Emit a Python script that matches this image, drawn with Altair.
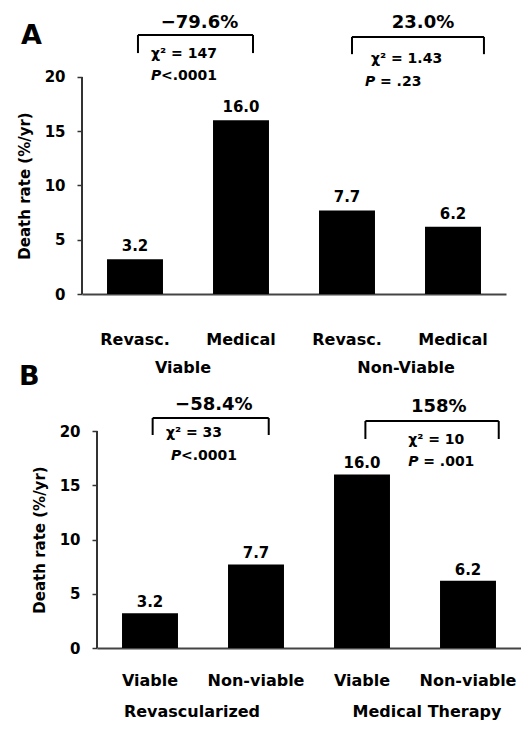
import altair as alt
import pandas as pd

FONT = "DejaVu Sans"
STEP = 106.0  # px per bar step (annotation x unit)

# ---------------- Panel A data ----------------
a_keys = ["v_rev", "v_med", "n_rev", "n_med"]
a_labels = ["Revasc.", "Medical", "Revasc.", "Medical"]
a_values = [3.2, 16.0, 7.7, 6.2]
a_groups = ["Viable", "Non-Viable"]
a_group_x = [0.953, 3.057]
a_pct = ["\u221279.6%", "23.0%"]
a_pct_x = [1.108, 3.217]
a_pct_y = [24.98, 24.98]
a_chi = ["\u03c7\u00b2 = 147", "\u03c7\u00b2 = 1.43"]
a_chi_x = [0.651, 2.726]
a_chi_y = [22.1, 21.66]
a_p_rest = ["<.0001", "= .23"]
a_p_dx = [10, 15]
a_p_x = [0.651, 2.67]
a_p_y = [20.1, 19.54]
a_br_x1 = [0.528, 2.547]
a_br_x2 = [1.613, 3.792]
a_br_top = [23.87, 23.69]
a_br_bot = [22.2, 22.1]

# ---------------- Panel B data ----------------
b_keys = ["r_via", "r_non", "m_via", "m_non"]
b_labels = ["Viable", "Non-viable", "Viable", "Non-viable"]
b_values = [3.2, 7.7, 16.0, 6.2]
b_groups = ["Revascularized", "Medical Therapy"]
b_group_x = [0.896, 3.113]
b_pct = ["\u221258.4%", "158%"]
b_pct_x = [1.102, 3.224]
b_pct_y = [22.4, 22.2]
b_chi = ["\u03c7\u00b2 = 33", "\u03c7\u00b2 = 10"]
b_chi_x = [0.65, 2.936]
b_chi_y = [19.8, 19.17]
b_p_rest = ["<.0001", "= .001"]
b_p_dx = [10, 15]
b_p_x = [0.698, 2.936]
b_p_y = [17.7, 17.14]
b_br_x1 = [0.525, 2.532]
b_br_x2 = [1.62, 3.79]
b_br_top = [21.2, 20.92]
b_br_bot = [19.63, 19.26]

y_ticks = [0, 5, 10, 15, 20]


def build_panel(keys, labels, values, groups, group_x, group_y,
                pct, pct_x, pct_y, chi, chi_x, chi_y, p_rest, p_dx, p_x, p_y,
                br_x1, br_x2, br_top, br_bot, letters, ytop, height, width,
                xrange, axis_offset, label_pad, value_dy):
    yscale = alt.Scale(domain=[0, ytop], nice=False, zero=True)
    band_kw = dict(paddingInner=0.472, paddingOuter=0.236)
    qs_kw = dict(domain=[0, 4], nice=False, zero=False)
    if xrange is not None:
        band_kw["range"] = xrange
        qs_kw["range"] = xrange
    label_expr = ("[" + ",".join("'%s'" % l for l in labels) + "][indexof(["
                  + ",".join("'%s'" % k for k in keys) + "], datum.value)]")

    x_axis = alt.Axis(title=None, labelExpr=label_expr, ticks=False, tickSize=0,
                      domainColor="#444", domainWidth=2, labelAngle=0,
                      labelFont=FONT, labelFontSize=16, labelFontWeight="bold",
                      labelColor="#000", labelPadding=label_pad)
    title_y = height - (max(y_ticks) / 2.0) * (height / ytop)
    y_axis = alt.Axis(values=y_ticks, domain=False, grid=False, tickSize=5,
                      tickWidth=1.5, tickColor="#333", labelFont=FONT,
                      labelFontSize=15, labelFontWeight="bold", labelColor="#000",
                      labelPadding=12, title="Death rate (%/yr)", titleFont=FONT,
                      titleFontSize=15, titleFontWeight="bold", titleColor="#000",
                      titlePadding=12, titleY=title_y, offset=axis_offset)

    bars_df = pd.DataFrame({"key": keys, "value": values})
    bars = alt.Chart(bars_df).mark_bar(color="#000").encode(
        x=alt.X("key:N", sort=keys, scale=alt.Scale(**band_kw), axis=x_axis),
        y=alt.Y("value:Q", scale=yscale, axis=y_axis),
    )
    vals = alt.Chart(bars_df).mark_text(
        font=FONT, fontSize=15, fontWeight="bold", baseline="alphabetic",
        dy=value_dy, color="#000"
    ).encode(
        x=alt.X("key:N", sort=keys, scale=alt.Scale(**band_kw), axis=None),
        y=alt.Y("value:Q", scale=yscale, axis=y_axis),
        text=alt.Text("value:Q", format=".1f"),
    )

    def X(field="x"):
        return alt.X(field + ":Q", scale=alt.Scale(**qs_kw), axis=None)

    def Y(field="y"):
        return alt.Y(field + ":Q", scale=yscale, axis=y_axis)

    # y axis line from 0 to 20
    yline = alt.Chart(pd.DataFrame({"x": [0], "y": [0], "y2": [20]})).mark_rule(
        color="#333", strokeWidth=2
    ).encode(x=X(), y=Y(), y2="y2:Q")

    # brackets
    segs = []
    for i in range(len(br_x1)):
        segs.append((br_x1[i], br_top[i], br_x2[i], br_top[i]))
        segs.append((br_x1[i], br_top[i], br_x1[i], br_bot[i]))
        segs.append((br_x2[i], br_top[i], br_x2[i], br_bot[i]))
    seg_df = pd.DataFrame(segs, columns=["x", "y", "x2", "y2"])
    brackets = alt.Chart(seg_df).mark_rule(color="#000", strokeWidth=2).encode(
        x=X(), y=Y(), x2="x2:Q", y2="y2:Q"
    )

    pct_df = pd.DataFrame({"x": pct_x, "y": pct_y, "t": pct})
    pct_t = alt.Chart(pct_df).mark_text(
        font=FONT, fontSize=18, fontWeight="bold", align="center",
        baseline="middle", color="#000"
    ).encode(x=X(), y=Y(), text="t:N")

    chi_df = pd.DataFrame({"x": chi_x, "y": chi_y, "t": chi})
    chi_t = alt.Chart(chi_df).mark_text(
        font=FONT, fontSize=14, fontWeight="bold", align="left",
        baseline="middle", color="#000"
    ).encode(x=X(), y=Y(), text="t:N")

    p_df = pd.DataFrame({"x": p_x, "y": p_y, "t": ["P"] * len(p_x),
                         "xr": [p_x[i] + p_dx[i] / STEP for i in range(len(p_x))],
                         "r": p_rest})
    p_t = alt.Chart(p_df).mark_text(
        font=FONT, fontSize=14, fontWeight="bold", fontStyle="italic",
        align="left", baseline="middle", color="#000"
    ).encode(x=X(), y=Y(), text="t:N")
    p_r = alt.Chart(p_df).mark_text(
        font=FONT, fontSize=14, fontWeight="bold", align="left",
        baseline="middle", color="#000"
    ).encode(x=X("xr"), y=Y(), text="r:N")

    grp_df = pd.DataFrame({"x": group_x, "y": [group_y] * len(group_x), "t": groups})
    grp_t = alt.Chart(grp_df).mark_text(
        font=FONT, fontSize=16, fontWeight="bold", align="center",
        baseline="middle", color="#000"
    ).encode(x=X(), y=Y(), text="t:N")

    layers = [bars, vals, yline, brackets, pct_t, chi_t, p_t, p_r, grp_t]
    if letters:
        let_df = pd.DataFrame({"t": [l[0] for l in letters],
                               "x": [l[1] for l in letters],
                               "y": [l[2] for l in letters]})
        let_t = alt.Chart(let_df).mark_text(
            font=FONT, fontSize=27, fontWeight="bold", align="left",
            baseline="middle", color="#000"
        ).encode(x=X(), y=Y(), text="t:N")
        layers.append(let_t)

    return alt.layer(*layers).resolve_scale(x="independent").properties(
        width=width, height=height
    )


panel_a = build_panel(
    a_keys, a_labels, a_values, a_groups, a_group_x, -6.82,
    a_pct, a_pct_x, a_pct_y, a_chi, a_chi_x, a_chi_y, a_p_rest, a_p_dx, a_p_x, a_p_y,
    a_br_x1, a_br_x2, a_br_top, a_br_bot,
    letters=[("A", -0.575, 23.78), ("B", -0.594, -7.65)],
    ytop=25.8, height=280, width=424, xrange=None, axis_offset=0,
    label_pad=37, value_dy=-8,
)
panel_b = build_panel(
    b_keys, b_labels, b_values, b_groups, b_group_x, -5.9,
    b_pct, b_pct_x, b_pct_y, b_chi, b_chi_x, b_chi_y, b_p_rest, b_p_dx, b_p_x, b_p_y,
    b_br_x1, b_br_x2, b_br_top, b_br_bot,
    letters=[],
    ytop=23.226, height=252, width=439, xrange=[15, 439], axis_offset=-15,
    label_pad=24, value_dy=-6,
)

chart = alt.vconcat(panel_a, panel_b, spacing=4).properties(
    padding={"left": 9, "top": 5, "right": 0, "bottom": 0},
    background="white",
).configure_view(stroke=None)

chart.save("out.html", embed_options={"renderer": "svg", "actions": False})
